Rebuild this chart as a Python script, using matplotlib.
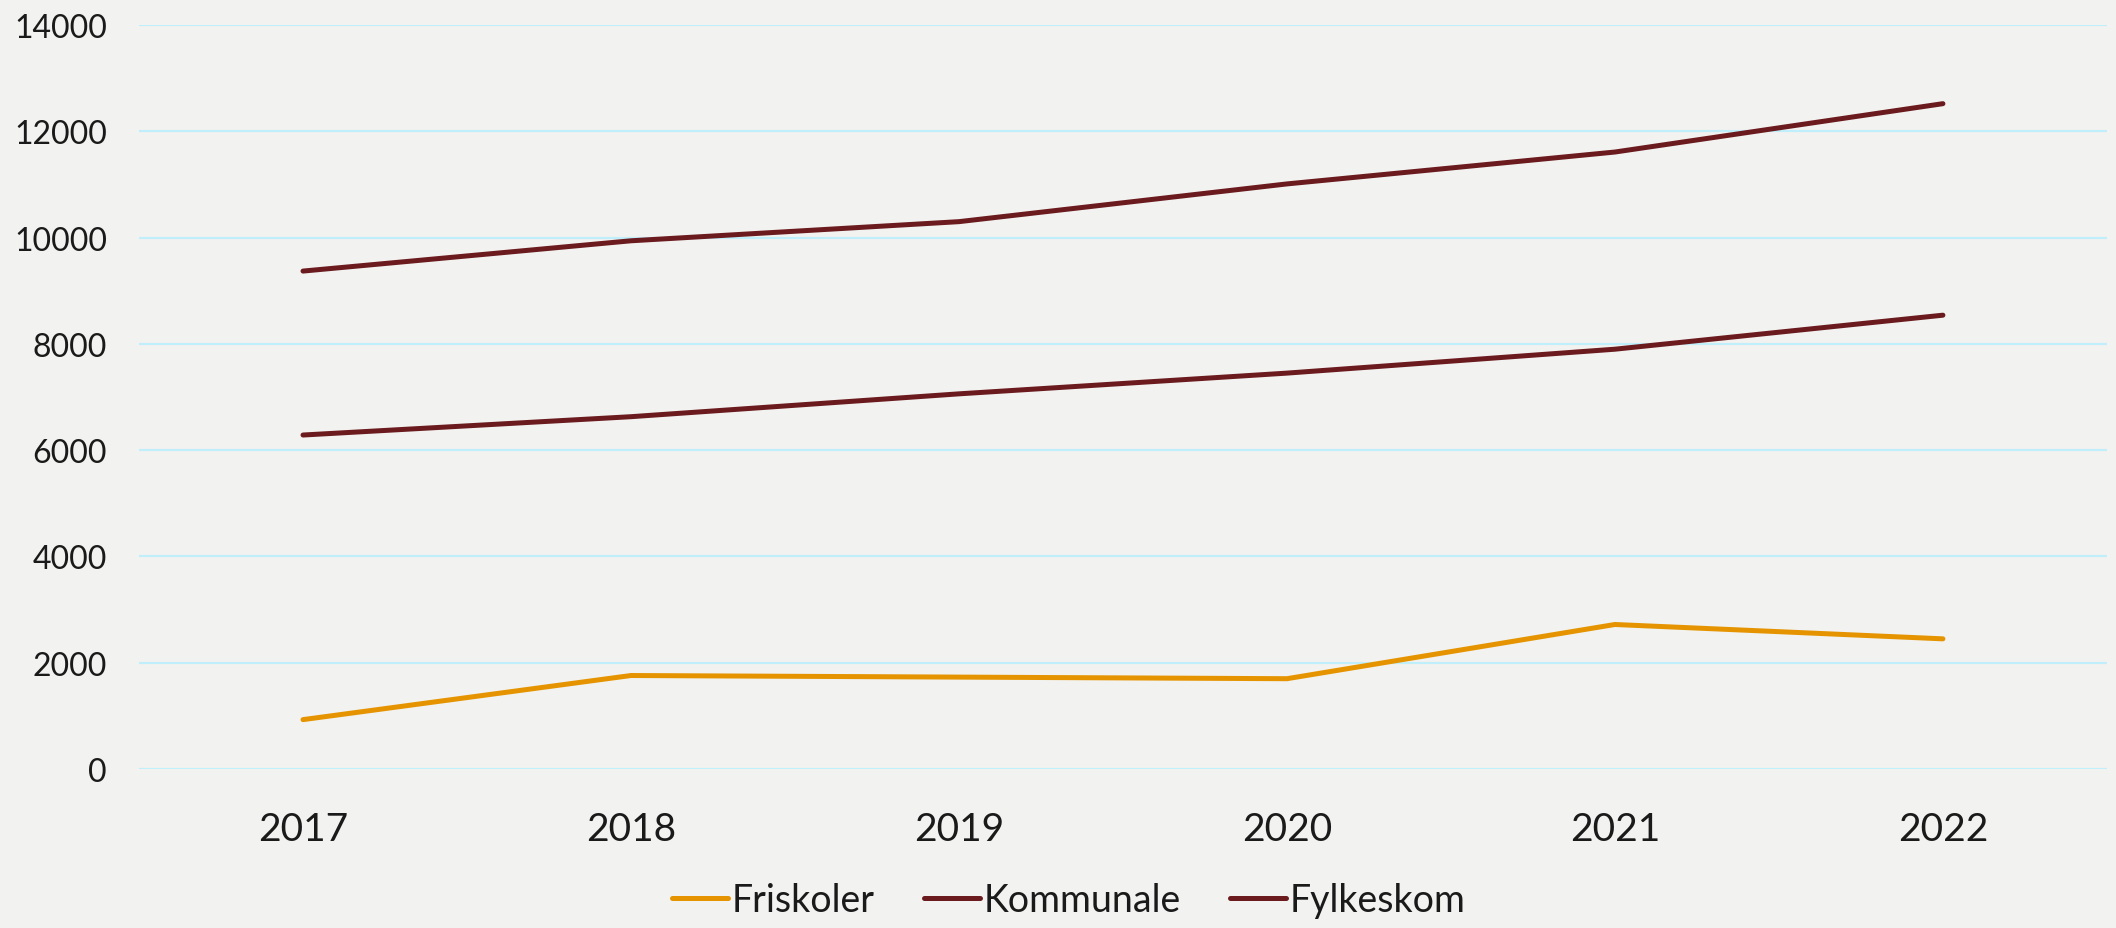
import matplotlib
matplotlib.use('Agg')
import matplotlib.pyplot as plt

# 年份与三类学校的数值
years = ['2017', '2018', '2019', '2020', '2021', '2022']
friskoler = [930, 1760, 1730, 1700, 2720, 2450]
kommunale = [6285, 6630, 7060, 7450, 7900, 8540]
fylkeskom = [9370, 9940, 10300, 11010, 11610, 12520]
y_ticks = [0, 2000, 4000, 6000, 8000, 10000, 12000, 14000]

bg_color = '#F2F2F0'
orange = '#E59400'
dark_red = '#6B1A1E'
grid_color = '#BFEFFA'


def main():
    plt.rcParams['font.family'] = ['Lato', 'DejaVu Sans']
    fig = plt.figure(figsize=(21.16, 9.29), dpi=100, facecolor=bg_color)
    ax = fig.add_axes([0.0657, 0.1711, 0.93, 0.8009], facecolor=bg_color)

    x = range(len(years))
    ax.plot(x, friskoler, color=orange, linewidth=3.6, solid_capstyle='round',
            solid_joinstyle='round', label='Friskoler')
    ax.plot(x, kommunale, color=dark_red, linewidth=3.6, solid_capstyle='round',
            solid_joinstyle='round', label='Kommunale')
    ax.plot(x, fylkeskom, color=dark_red, linewidth=3.6, solid_capstyle='round',
            solid_joinstyle='round', label='Fylkeskom')

    ax.set_xlim(-0.5, len(years) - 0.5)
    ax.set_ylim(0, 14000)
    ax.set_xticks(list(x))
    ax.set_xticklabels(years)
    ax.set_yticks(y_ticks)

    # 网格线只有横向，浅青色
    ax.yaxis.grid(True, color=grid_color, linewidth=1.5)
    ax.set_axisbelow(True)
    for side in ['top', 'right', 'left', 'bottom']:
        ax.spines[side].set_visible(False)

    ax.tick_params(axis='y', length=0, pad=23, labelsize=23, labelcolor='#1a1a1a')
    ax.tick_params(axis='x', length=0, pad=30, labelsize=28, labelcolor='#1a1a1a')

    fig.legend(loc='center', bbox_to_anchor=(0.505, 0.03), ncol=3,
               frameon=False, fontsize=27, handlelength=1.5, handletextpad=0.1,
               columnspacing=1.3, labelcolor='#1a1a1a')

    plt.savefig('out.png', dpi=100, facecolor=bg_color)


if __name__ == '__main__':
    main()
